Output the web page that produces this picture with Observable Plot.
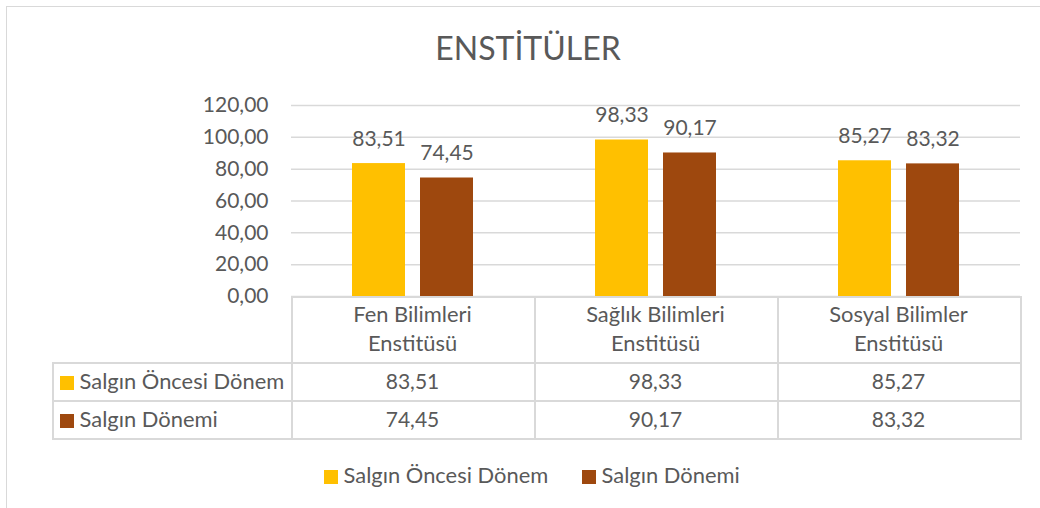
<!DOCTYPE html>
<html>
<head>
<meta charset="utf-8">
<script src="https://cdn.jsdelivr.net/npm/d3@7"></script>
<script src="https://cdn.jsdelivr.net/npm/@observablehq/plot@0.6"></script>
<style>
  html, body { margin: 0; padding: 0; background: #fff; }
  #wrap { position: relative; width: 1040px; height: 508px; overflow: hidden; font-family: Lato, "Noto Sans", sans-serif; color: #595959; }
  #frame { position: absolute; left: 6px; top: 6px; width: 1100px; height: 600px; border: 1px solid #d9d9d9; box-sizing: border-box; }
  #title { position: absolute; left: 0; width: 1056px; top: 28px; text-align: center; font-size: 32px; line-height: 40px; }
  #plot { position: absolute; left: 0; top: 0; }
  .cell { position: absolute; box-sizing: border-box; font-size: 21px; text-align: center; white-space: nowrap; }
  .txt { font-size: 21.9px; }
  .line { position: absolute; background: #d9d9d9; }
  .sw { display: inline-block; width: 14px; height: 14px; }
  .lg { position: absolute; font-size: 21.9px; line-height: 24px; white-space: nowrap; }
</style>
</head>
<body>
<div id="wrap">
  <div id="frame"></div>
  <div id="title">ENSTİTÜLER</div>
  <div id="plot"></div>
</div>
<script>
const categories = ["Fen Bilimleri\nEnstitüsü", "Sağlık Bilimleri\nEnstitüsü", "Sosyal Bilimler\nEnstitüsü"];
const seriesNames = ["Salgın Öncesi Dönem", "Salgın Dönemi"];
const seriesColors = ["#FFC000", "#9E480E"];
const beforeValues = [83.51, 98.33, 85.27];
const duringValues = [74.45, 90.17, 83.32];
const yTicks = [0, 20, 40, 60, 80, 100, 120];

const seriesValues = [beforeValues, duringValues];
const data = [];
seriesNames.forEach((s, si) => categories.forEach((c, ci) => data.push({cat: c, series: s, value: seriesValues[si][ci]})));
const fmt = v => v.toFixed(2).replace(".", ",");

const W = 1040, H = 300;
const mL = 291, mR = 20, mT = 105, mB = 4;
const font = "Lato, 'Noto Sans', sans-serif";

const chart = Plot.plot({
  width: W,
  height: H,
  marginLeft: mL,
  marginRight: mR,
  marginTop: mT,
  marginBottom: mB,
  style: {fontFamily: font, fontSize: "21px", color: "#595959", background: "transparent", overflow: "visible"},
  fx: {domain: categories, padding: 0, axis: null},
  x: {domain: seriesNames, paddingInner: 0.217, paddingOuter: 0.87, axis: null},
  y: {domain: [0, 120], axis: null},
  color: {domain: seriesNames, range: seriesColors},
  marks: [
    Plot.ruleY(yTicks, {stroke: "#d9d9d9", strokeWidth: 1.5}),
    Plot.barY(data, {fx: "cat", x: "series", y: "value", fill: "series"}),
    Plot.text(data, {fx: "cat", x: "series", y: "value", text: d => fmt(d.value), lineAnchor: "bottom", dy: -18, fill: "#595959", fontSize: 21, fontFamily: font}),
    Plot.axisY({ticks: yTicks, tickFormat: fmt, tickSize: 0, tickPadding: 23, fontSize: 21, fill: "#595959", fontFamily: font, label: null, facetAnchor: "left"})
  ]
});
document.getElementById("plot").appendChild(chart);

// Data table (built from the arrays)
const wrap = document.getElementById("wrap");
const colX = [291, 534, 777, 1020];
const tableLeft = 52;
const rowY = [296, 362, 400, 438];
function line(x, y, w, h) {
  const d = document.createElement("div");
  d.className = "line";
  Object.assign(d.style, {left: x + "px", top: y + "px", width: w + "px", height: h + "px"});
  wrap.appendChild(d);
}
function cell(x, y, w, h, html, align, lh, cls) {
  const d = document.createElement("div");
  d.className = "cell" + (cls ? " " + cls : "");
  Object.assign(d.style, {left: x + "px", top: y + "px", width: w + "px", height: h + "px", textAlign: align || "center", lineHeight: (lh || h) + "px"});
  d.innerHTML = html;
  wrap.appendChild(d);
}
// horizontal lines
line(colX[0], rowY[0], colX[3] - colX[0] + 1.5, 1.5);
line(tableLeft, rowY[1], colX[3] - tableLeft + 1.5, 1.5);
line(tableLeft, rowY[2], colX[3] - tableLeft + 1.5, 1.5);
line(tableLeft, rowY[3], colX[3] - tableLeft + 1.5, 1.5);
// vertical lines
line(tableLeft, rowY[1], 1.5, rowY[3] - rowY[1]);
colX.forEach(x => line(x, rowY[0], 1.5, rowY[3] - rowY[0]));
// header
categories.forEach((c, i) => {
  cell(colX[i], rowY[0] + 4, colX[i + 1] - colX[i], rowY[1] - rowY[0], c.split("\n").join("<br>"), "center", 28.7, "txt");
});
// rows
seriesNames.forEach((s, si) => {
  cell(tableLeft + 8, rowY[si + 1], colX[0] - tableLeft, rowY[si + 2] - rowY[si + 1],
    `<span class="sw" style="background:${seriesColors[si]};vertical-align:-1px"></span> ${s}`, "left", null, "txt");
  categories.forEach((c, ci) => {
    cell(colX[ci], rowY[si + 1], colX[ci + 1] - colX[ci], rowY[si + 2] - rowY[si + 1], fmt(seriesValues[si][ci]));
  });
});
// legend
const legendX = [324, 582];
seriesNames.forEach((s, si) => {
  const d = document.createElement("div");
  d.className = "lg";
  Object.assign(d.style, {left: legendX[si] + "px", top: "463px"});
  d.innerHTML = `<span class="sw" style="background:${seriesColors[si]};vertical-align:-1px"></span> ${s}`;
  wrap.appendChild(d);
});
</script>
</body>
</html>
